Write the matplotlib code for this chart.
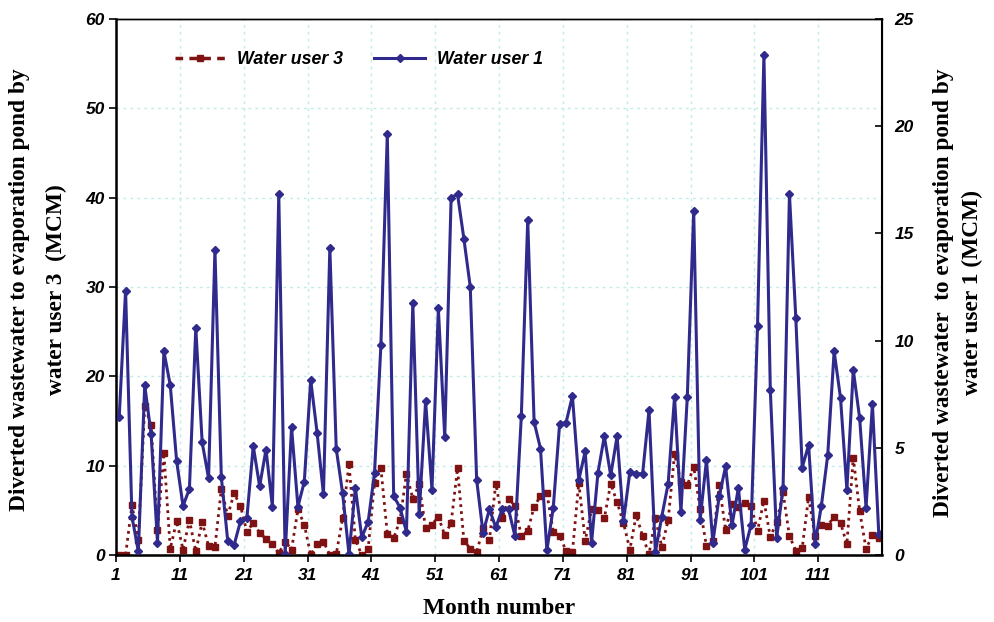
import matplotlib
matplotlib.use("Agg")
import matplotlib.pyplot as plt
from matplotlib.lines import Line2D
from matplotlib.font_manager import FontProperties

months = list(range(1, 121))
xtick_labels = ["1", "11", "21", "31", "41", "51", "61", "71", "81", "91", "101", "111"]

# Water user 3 (left axis, MCM)
user3 = [0, 0, 5.6, 1.7, 16.7, 14.5, 2.8, 11.4, 0.7, 3.8,
         0.6, 3.9, 0.4, 3.7, 1.0, 0.9, 7.4, 4.4, 6.9, 5.5,
         2.6, 3.6, 2.5, 1.8, 1.2, 0.2, 1.5, 0.6, 5.1, 3.4,
         0.0, 1.2, 1.5, 0.0, 0.1, 4.1, 10.2, 1.7, 0.0, 0.7,
         8.1, 9.7, 2.4, 1.9, 3.9, 9.1, 6.3, 7.9, 3.0, 3.4,
         4.3, 2.2, 3.6, 9.7, 1.6, 0.7, 0.3, 3.0, 1.7, 8.0,
         4.1, 6.3, 5.5, 2.1, 2.7, 5.4, 6.6, 6.9, 2.6, 2.1,
         0.5, 0.3, 8.1, 1.6, 5.1, 5.0, 4.1, 8.0, 5.9, 3.6,
         0.6, 4.5, 2.1, 0.1, 4.1, 0.9, 3.9, 11.3, 8.2, 7.8,
         9.9, 5.2, 1.0, 1.6, 7.8, 2.8, 5.7, 5.4, 5.8, 5.5,
         2.7, 6.1, 2.0, 3.7, 7.0, 2.1, 0.5, 0.8, 6.5, 2.1,
         3.4, 3.3, 4.3, 3.6, 1.2, 10.9, 4.9, 0.7, 2.2, 1.9]

# Water user 1 (right axis, MCM)
user1 = [6.42, 12.33, 1.79, 0.17, 7.92, 5.63, 0.58, 9.50, 7.92, 4.38,
         2.29, 3.08, 10.58, 5.25, 3.58, 14.21, 3.63, 0.67, 0.46, 1.58,
         1.71, 5.08, 3.21, 4.92, 2.25, 16.83, 0.04, 5.96, 2.25, 3.42,
         8.17, 5.71, 2.83, 14.33, 4.96, 2.88, 0.04, 3.13, 0.83, 1.54,
         3.83, 9.79, 19.63, 2.75, 2.21, 1.08, 11.75, 1.92, 7.17, 3.04,
         11.50, 5.50, 16.67, 16.83, 14.75, 12.50, 3.50, 1.04, 2.13, 1.29,
         2.13, 2.13, 0.88, 6.50, 15.63, 6.21, 4.96, 0.21, 2.21, 6.13,
         6.17, 7.42, 3.50, 4.83, 0.58, 3.83, 5.54, 3.71, 5.54, 1.58,
         3.88, 3.79, 3.79, 6.75, 0.13, 1.79, 3.33, 7.38, 2.00, 7.38,
         16.04, 1.63, 4.42, 0.58, 2.75, 4.13, 1.38, 3.13, 0.25, 1.42,
         10.67, 23.33, 7.71, 0.79, 3.13, 16.83, 11.04, 4.08, 5.13, 0.50,
         2.29, 4.67, 9.50, 7.33, 3.04, 8.63, 6.38, 2.21, 7.04, 0.96]

blue = "#2f2a8c"
red = "#7f1212"
grid_c = "#bfece6"

fig = plt.figure(figsize=(9.94, 6.22), dpi=100)
ax = fig.add_axes([116/994, 1-555/622, (882-116)/994, (555-19)/622])
ax2 = ax.twinx()

ax.plot(months, user3, color=red, lw=2.0, linestyle=(0, (1.0, 1.5)),
        marker="s", markersize=5, markerfacecolor=red, markeredgecolor=red)
ax2.plot(months, user1, color=blue, lw=2.2, marker="D", markersize=4.2,
         markerfacecolor=blue, markeredgecolor=blue)

ax.set_xlim(0.5, 120.5)
ax.set_ylim(0, 60)
ax2.set_ylim(0, 25)

xt = [0.5 + 10*i for i in range(len(xtick_labels))]
ax.set_xticks(xt)
ax.set_xticklabels(xtick_labels)
ax.set_yticks(range(0, 61, 10))
ax2.set_yticks(range(0, 26, 5))

ax.set_axisbelow(True)
ax.grid(True, color=grid_c, linestyle=(0, (2, 3)), lw=1.0)

tick_font = dict(family="Liberation Sans", weight="bold", style="italic", size=12.5)
for lab in ax.get_xticklabels() + ax.get_yticklabels() + ax2.get_yticklabels():
    lab.set_fontproperties(FontProperties(**tick_font))

ax.tick_params(axis="x", direction="out", length=5, width=1.2, pad=4)
ax.tick_params(axis="y", direction="out", length=5, width=1.2, pad=3)
ax2.tick_params(axis="y", direction="in", length=5, width=1.2, pad=9)

for s in ["left", "bottom"]:
    ax.spines[s].set_linewidth(1.8)
ax.spines["top"].set_linewidth(1.0)
ax2.spines["right"].set_linewidth(1.5)
ax2.spines["top"].set_linewidth(1.0)

label_font = dict(family="Liberation Serif", weight="bold", size=16.8)
fig.text(0.0385, 0.535, "Diverted wastewater to evaporation pond by\nwater user 3  (MCM)",
         rotation=90, ha="center", va="center", multialignment="center",
         linespacing=2.0, **label_font)
fig.text(0.9635, 0.53, "Diverted wastewater  to evaporation pond by\nwater user 1 (MCM)",
         rotation=90, ha="center", va="center", multialignment="center",
         linespacing=1.5, **label_font)
fig.text(499/994, 1-608/622, "Month number", ha="center", va="center", **label_font)

h3 = Line2D([], [], color=red, lw=2.5, linestyle=(0, (2.2, 1.8)), marker="s",
            markersize=5, markerfacecolor=red, markeredgecolor=red)
h1 = Line2D([], [], color=blue, lw=2.2, marker="D", markersize=4.2,
            markerfacecolor=blue, markeredgecolor=blue)
leg = ax2.legend([h3, h1], ["Water user 3", "Water user 1"], ncol=2,
                 loc="center left", bbox_to_anchor=(175/994, 1-60/622),
                 bbox_transform=fig.transFigure, frameon=False,
                 handlelength=2.85, handletextpad=0.65, columnspacing=1.75,
                 borderpad=0, borderaxespad=0,
                 prop=dict(family="Liberation Sans", weight="bold", style="italic", size=12.8))

fig.savefig("out.png", dpi=100)
